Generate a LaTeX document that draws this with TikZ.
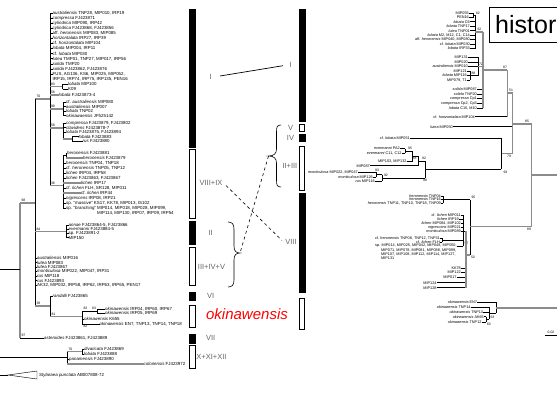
\documentclass[tikz,border=0pt]{standalone}
\usepackage{fontspec}
\setmainfont{Liberation Sans}
\newcommand\lleaf[5]{\node[lL] (#1) at (#3,#4) {#5}; \draw[br] (#2,#4) -- (#1.west);}
\newcommand\gleaf[5]{\node[lL] (#1) at (#3,#4) {#5}; \draw[gb] (#2,#4) -- (#1.west);}
\newcommand\tleaf[4]{\node[lL] (#1) at (#2,#3) {#4};}
\newcommand\rleaf[5]{\node[lR] (#1) at (#3,#4) {#5}; \draw[br] (#1.east) -- (#2,#4);}
\newcommand\bsl[5]{\node[bs,anchor=#4] (#1) at (#2,#3) {#5};}
\begin{document}
\begin{tikzpicture}[x=1pt,y=-1pt,
 br/.style={line width=0.45pt,black},
 gb/.style={line width=1.5pt,black!45},
 lL/.style={font=\fontsize{4.4}{5}\selectfont,inner sep=0pt,anchor=west},
 lR/.style={font=\fontsize{3.8}{4}\selectfont,inner sep=0pt,anchor=east},
 bs/.style={font=\fontsize{3.4}{4}\selectfont,inner sep=0.3pt},
 blk/.style={fill=black,draw=black,line width=0.4pt},
 opn/.style={draw=black,line width=0.7pt,fill=white},
 clab/.style={font=\fontsize{7.5}{8}\selectfont,text=black!60,inner sep=0pt},
]
\useasboundingbox (0,0) rectangle (557,399);
\clip (0,0) rectangle (557,399);
\fill[white] (0,0) rectangle (557,399);

% ================= LEFT TREE =================
\draw[br] (50,13) -- (50,185.5);
\lleaf{t1}{50}{52.5}{13}{\textit{australiensis} TNP28, MIP010, IRP19}
\lleaf{t2}{50}{52.5}{18}{\textit{compressa} FJ423871}
\lleaf{t3}{50}{52.5}{23}{\textit{cylindrica} MIP090, IRP42}
\lleaf{t4}{50}{52.5}{28}{\textit{cylindrica} FJ423868, FJ423856}
\lleaf{t5}{50}{52.5}{33.2}{aff. \textit{heronensis} MIP083, MIP085}
\lleaf{t6}{50}{52.5}{38.3}{\textit{horizontalata} IRP27, IRP39}
\lleaf{t7}{50}{52.5}{43.4}{cf. \textit{horizontalata} MIP104}
\lleaf{t8}{50}{52.5}{48.5}{\textit{lobata} MIP004, IRP11}
\lleaf{t9}{50}{52.5}{53.6}{cf. \textit{lobata} MIP030}
\lleaf{t10}{50}{52.5}{58.7}{\textit{lutea} TMP01, TNP27, MIP017, IRP56}
\lleaf{t11}{50}{52.5}{63.8}{\textit{solida} TMP20}
\lleaf{t12}{50}{52.5}{68.9}{\textit{solida} FJ423862, FJ423876}
\lleaf{t13}{50}{52.5}{74}{FUS, AG136, KS6, MIP025, MIP052,}
\tleaf{t14}{52.5}{79}{IRP15, IRP74, IRP75, IRP135, PEN16}
% 83
\draw[gb] (50,86.5) -- (62.7,86.5);
\draw[br] (62.7,84) -- (62.7,89);
\lleaf{a1}{62.7}{68}{84}{\textit{lobata} MIP100}
\lleaf{a2}{62.7}{68}{89}{K09}
\bsl{b83}{50.5}{86}{south west}{83}
% 58
\gleaf{a3}{50}{58.5}{95}{\textit{lobata} FJ423873-4}
\bsl{b58}{50.5}{94.3}{south west}{58}
% 70
\draw[gb] (35,99) -- (50,99);
\bsl{b70}{36}{98.3}{south west}{70}
% 99
\draw[gb] (50,108.75) -- (63,108.75);
\draw[br] (63,102) -- (63,115.5);
\lleaf{a4}{63}{66}{102}{cf. \textit{australiensis} MIP080}
\lleaf{a5}{63}{66}{106.5}{\textit{australiensis} MIP007}
\lleaf{a6}{63}{66}{111}{\textit{lobata} TNP02}
\lleaf{a7}{63}{66}{115.5}{\textit{okinawaensis} JF525142}
\bsl{b99}{50.5}{108}{south west}{99}
% 58b
\draw[gb] (50,128) -- (63,128);
\draw[br] (63,123) -- (63,138.75);
\lleaf{a8}{63}{66}{123}{\textit{compressa} FJ423879, FJ423802}
\lleaf{a9}{63}{66}{127.5}{\textit{clavidens} FJ423878-7}
\lleaf{a10}{63}{66}{132}{\textit{lobata} FJ423875, FJ423894}
\draw[gb] (63,138.75) -- (72,138.75);
\draw[br] (72,136.5) -- (72,141);
\lleaf{a11}{72}{78.5}{136.5}{\textit{lobata} FJ423883}
\lleaf{a12}{72}{82.5}{141}{\textit{rus} FJ423880}
\bsl{b58b}{50.5}{127.3}{south west}{58}
% 38 (VIII+IX)
\draw[gb] (50,185.5) -- (63,185.5);
\draw[br] (63,155.5) -- (63,208);
\draw[br] (63,155.5) -- (66,155.5);
\draw[br] (66,153) -- (66,158);
\lleaf{c1}{66}{67}{153}{\textit{heronensis} FJ423881}
\gleaf{c2}{66}{83}{158}{\textit{heronensis} FJ423879}
\lleaf{c3}{63}{66}{163}{\textit{heronensis} TNP04, TNP18}
\lleaf{c4}{63}{66}{168}{cf. \textit{heronensis} TNP05, TNP12}
\lleaf{c5}{63}{66}{173}{\textit{lichen} IRP04, IRP58}
\lleaf{c6}{63}{66}{178}{\textit{lichen} FJ423863, FJ423867}
\gleaf{c7}{63}{81}{183}{\textit{lichen} IRP17}
\lleaf{c8}{63}{66}{188}{cf. \textit{lichen} FLH, SR128, MIP011}
\gleaf{c9}{63}{81}{193}{cf. \textit{lichen} IRP44}
\lleaf{c10}{63}{66}{198}{\textit{nigrescens} IRP08, IRP21}
\lleaf{c11}{63}{66}{203}{sp. ``massive'' KS17, KK78, MIP013, IS102}
\lleaf{c12}{63}{66}{208}{sp. ``branching'' MIP014, MIP018, MIP028, MIP099,}
\tleaf{c13}{97}{213}{MIP114, MIP130, IRP07, IRP09, IRP54}
\bsl{b38}{50.5}{184.8}{south west}{38}
% 68
\draw[gb] (20,203) -- (35,203);
\bsl{b68}{21}{202.3}{south west}{68}
\draw[br] (35,99) -- (35,306);
\draw[gb] (20,203) -- (20,338);
\draw[br] (0,269) -- (20,269);
% 84 (II)
\draw[gb] (35,231.3) -- (66.7,231.3);
\draw[br] (66.7,225) -- (66.7,237.6);
\lleaf{d1}{66.7}{68.5}{225}{\textit{annae} FJ423864-5, FJ423866}
\lleaf{d2}{66.7}{68.5}{229.2}{\textit{evermanni} FJ423884-5}
\lleaf{d3}{66.7}{68.5}{233.4}{sp. FJ423891-2}
\lleaf{d4}{66.7}{68.5}{237.6}{MIP150}
\bsl{b84}{36}{230.6}{south west}{84}
% III+IV+V
\lleaf{e1}{35}{37}{258}{\textit{australiensis} MIP016}
\lleaf{e2}{35}{37}{262.5}{\textit{lutea} MIP083}
\lleaf{e3}{35}{37}{267}{\textit{lutea} FJ423867}
\lleaf{e4}{35}{37}{271.5}{\textit{monticulosa} MIP022, MIP047, IRP31}
\lleaf{e5}{35}{37}{276}{\textit{rus} MIP118}
\lleaf{e6}{35}{37}{280.5}{\textit{rus} FJ423893}
\lleaf{e7}{35}{37}{285}{AK32, MIP032, IRP58, IRP62, IRP63, IRP65, PEN17}
% 38b
\draw[gb] (35,306) -- (50,306);
\draw[br] (50,296) -- (50,316.5);
\bsl{b38b}{36}{305.3}{south west}{38}
\lleaf{f1}{50}{52.5}{296}{\textit{randalli} FJ423865}
\draw[gb] (50,316.5) -- (82,316.5);
\bsl{b81}{51}{315.8}{south west}{81}
\draw[br] (82,311) -- (82,324);
\draw[br] (82,311) -- (97,311);
\draw[br] (97,309) -- (97,313);
\lleaf{g1}{97}{105}{309}{\textit{okinawensis} IRP04, IRP60, IRP67}
\lleaf{g2}{97}{105}{313}{\textit{okinawensis} IRP05, IRP69}
\lleaf{g3}{82}{84}{319.3}{\textit{okinawensis} K655}
\lleaf{g4}{82}{99.5}{324}{\textit{okinawensis} EN7, TNP13, TNP14, TNP18}
\bsl{b82a}{83}{310.4}{south west}{82}
\bsl{b83b}{96.5}{310.4}{south east}{83}
\bsl{b82b}{83}{324.8}{north west}{82}
% 97
\lleaf{h1}{20}{44}{338}{\textit{asteroides} FJ423861, FJ423889}
\bsl{b97}{21}{337.3}{south west}{97}
% bottom
\draw[br,line width=0.8pt] (0,357) -- (67,357);
\draw[br] (67,351.5) -- (67,364);
\draw[gb] (67,351.5) -- (82,351.5);
\draw[br] (82,349) -- (82,354);
\lleaf{k1}{82}{84}{349}{\textit{divaricata} FJ423869}
\lleaf{k2}{82}{84}{354}{\textit{lobata} FJ423888}
\lleaf{k3}{67}{69}{359}{\textit{panamensis} FJ423890}
\gleaf{k4}{67}{143.5}{364}{\textit{colonensis} FJ423972}
\bsl{b70b}{68}{350.8}{south west}{70}
% outgroup
\coordinate (og0) at (0,375);
\coordinate (og1) at (8,375);
\draw[br] (og0) -- (og1);
\draw[br] (og1) -- (37,371) -- (37,379) -- cycle;
\tleaf{og}{39}{375}{\textit{Stylaraea punctata} AB007808-72}

% ================= BARS =================
\path[blk] (189.3,9.3) rectangle (195,146.7);
\path[opn] (189.3,149.3) rectangle (195,218.3);
\path[blk] (189.3,221) rectangle (195,244.3);
\path[opn] (189.3,247.3) rectangle (195,285.7);
\path[blk] (189.3,292.3) rectangle (195,300);
\path[opn] (189.3,305.3) rectangle (195,327.7);
\path[blk] (189.3,334) rectangle (195,342.7);
\path[opn] (189.3,345.3) rectangle (195,368.3);
\path[blk] (299,9.3) rectangle (304.7,120.7);
\path[opn] (299,124) rectangle (304.7,131);
\path[blk] (299,134.5) rectangle (304.7,141);
\path[opn] (299,146) rectangle (304.7,190);
\path[blk] (299,193) rectangle (304.7,291.7);
\path[opn] (299,298) rectangle (304.7,329);

% clade labels
\node[clab] (IL) at (210.7,77.3) {I};
\node[clab] (IR) at (290.7,65) {I};
\node[clab] (lV) at (290.5,127.7) {V};
\node[clab] (lIV) at (290.5,138) {IV};
\node[clab,anchor=east] (lIIIII) at (297.5,165.7) {II+III};
\node[clab] (lVIIIIX) at (211,183) {VIII+IX};
\node[clab] (lVIII) at (291,242) {VIII};
\node[clab] (lII) at (210.7,232.7) {II};
\node[clab] (lIIIIVV) at (211.5,266.7) {III+IV+V};
\node[clab] (lVI) at (210.7,296) {VI};
\node[clab] (lVII) at (210.7,338.3) {VII};
\node[clab] (lXXIXII) at (211.5,356.7) {X+XI+XII};
\node[font=\fontsize{15}{15}\selectfont\itshape,text=red,inner sep=0pt] (okred) at (247,314) {okinawensis};
\coordinate (ia) at (220,76);
\coordinate (ib) at (283,65.7);
\draw[line width=0.7pt] (ia) -- (ib);
% braces
\coordinate (tipA) at (268.5,156);
\draw[line width=0.6pt] (281,125) .. controls (277,125) and (276.5,127) .. (276.5,132) -- (276.5,149) .. controls (276.5,153.5) and (274,156) .. (tipA) .. controls (274,156) and (276.5,158.5) .. (276.5,163) -- (276.5,180) .. controls (276.5,185) and (277,187) .. (281,187);
\coordinate (tipB) at (240,253);
\draw[line width=0.6pt] (228,222) .. controls (232,222) and (234,224) .. (234,229) -- (234,246) .. controls (234,251) and (236,253) .. (tipB) .. controls (236,253) and (234,255) .. (234,260) -- (234,280) .. controls (234,285) and (232,287) .. (228,287);
\draw[dashed,line width=0.6pt] (tipA) -- (tipB);
\coordinate (da) at (226,185.5);
\coordinate (db) at (282,240.5);
\draw[dashed,line width=0.6pt] (da) -- (db);

% historical box
\draw[line width=0.8pt] (489.3,7.3) rectangle (570,42.3);
\node[anchor=base west,font=\fontsize{25}{25}\selectfont,inner sep=0pt] (hist) at (495,33) {histor};

% ================= RIGHT TREE =================
\rleaf{r1}{473}{469}{13.3}{MIP055}
\rleaf{r2}{473}{469}{17.5}{PEN16}
\draw[br] (473,13.3) -- (473,17.5);
\draw[br] (473,15.4) -- (475,15.4);
\bsl{b62a}{475.5}{13.5}{west}{62}
\rleaf{r3}{475}{470}{21.7}{\textit{lobata} C6}
\rleaf{r4}{475}{470}{26.2}{\textit{lobata} TNP17}
\rleaf{r5}{475}{470}{30.7}{\textit{lutea} TNP01}
\rleaf{r6}{475}{470}{35.2}{\textit{lobata} M2, M12, C1, C14}
\rleaf{r7}{475}{470}{39.7}{aff. \textit{heronensis} MIP040, MIP080}
\rleaf{r8}{475}{470}{44.2}{cf. \textit{lobata} MIP030}
\rleaf{r9}{475}{470}{48.5}{\textit{lobata} IRP33}
\draw[br] (475,15.4) -- (475,48.5);
\draw[gb] (475,32) -- (483,32);
\bsl{b62b}{477}{31.3}{south west}{62}
\rleaf{r10}{478}{468}{57.3}{MIP131}
\rleaf{r11}{478}{468}{61.8}{MIP020}
\rleaf{r12}{478}{468}{66.3}{\textit{australiensis} MIP010}
\rleaf{r13}{470}{467}{71}{MIP121}
\rleaf{r14}{470}{467}{75.5}{\textit{lobata} MIP116}
\rleaf{r15}{470}{467}{80}{MIP079, T1}
\draw[br] (470,71) -- (470,80);
\draw[br] (470,75.5) -- (478,75.5);
\bsl{b88a}{471}{75}{south west}{88}
\draw[br] (478,57.3) -- (478,75.5);
\draw[gb] (478,66.4) -- (483,66.4);
\bsl{b72}{478.5}{65.8}{south west}{72}
\rleaf{r16}{483}{477}{89.3}{\textit{solida} MIP087}
\rleaf{r17}{483}{477}{94}{\textit{solida} TNP20}
\rleaf{r18}{483}{477}{98.7}{\textit{compressa} Cp1}
\rleaf{r19}{483}{477}{103.3}{\textit{compressa} Cp2, Cp3}
\rleaf{r20}{483}{477}{108}{\textit{lobata} C15, M10}
\draw[gb] (483,32) -- (483,108);
\draw[gb] (483,70) -- (507.3,70);
\bsl{b87}{505}{69.3}{south}{87}
\rleaf{r21}{507.3}{475}{116.7}{cf. \textit{horizontalata} MIP104}
\draw[gb] (507.3,70) -- (507.3,116.7);
\draw[gb] (507.3,93) -- (512.7,93);
\bsl{b51}{511}{92.3}{south}{51}
\rleaf{r22}{512.7}{453}{126.7}{\textit{lutea} MIP050}
\draw[gb] (512.7,93) -- (512.7,153.3);
\draw[gb] (512.7,124) -- (531.7,124);
\bsl{b85}{527}{123.3}{south}{85}
\draw[gb] (501,153.3) -- (512.7,153.3);
\bsl{b79}{509}{154.5}{north}{79}
\rleaf{r23}{501}{410}{138.3}{cf. \textit{lobata} MIP051}
\draw[br] (501,138.3) -- (501,169.3);
\bsl{b93a}{503}{170.5}{north west}{93}
% II+III
\rleaf{r24}{405}{400}{148.5}{\textit{evermanni} PA2}
\rleaf{r25}{405}{401.7}{153}{\textit{evermanni} C11, C12}
\draw[br] (405,148.5) -- (405,153);
\draw[br] (405,150.75) -- (412,150.75);
\bsl{b95a}{410}{150}{south}{95}
\rleaf{r26}{412}{406.7}{161.5}{MIP103, MIP132}
\draw[br] (412,150.75) -- (412,161.5);
\draw[br] (412,156) -- (418,156);
\bsl{b88b}{414.5}{156.6}{north}{88}
\rleaf{r27}{418}{370}{165.7}{MIP087}
\draw[br] (418,156) -- (418,165.7);
\draw[br] (418,161) -- (425,161);
\bsl{b92a}{424}{160.3}{south}{92}
\rleaf{r28}{376}{358}{172.3}{\textit{monticulosa} MIP022, MIP047}
\rleaf{r29}{376}{373}{177}{\textit{monticulosa} MIP126}
\draw[br] (376,172.3) -- (376,177);
\draw[br] (376,174.7) -- (382,174.7);
\bsl{b93b}{377}{171.6}{south}{93}
\rleaf{r30}{382}{375}{181.3}{\textit{rus} MIP116}
\draw[br] (382,174.7) -- (382,181.3);
\draw[br] (382,178) -- (425,178);
\bsl{b92b}{383.5}{177.3}{south west}{92}
\draw[br] (425,161) -- (425,178);
\draw[br] (425,169.3) -- (501,169.3);
\bsl{b98}{425}{179}{north}{98}
% VIII
\rleaf{r31}{443.3}{441}{196}{\textit{heronensis} TNP04}
\rleaf{r32}{443.3}{441}{199.5}{\textit{heronensis} TNP16}
\rleaf{r33}{443.3}{441}{203}{\textit{heronensis} TNP11, TNP10, TNP18, TNP09}
\draw[br] (443.3,196) -- (443.3,203);
\draw[br] (443.3,199.5) -- (470,199.5);
\bsl{b95b}{471}{198.8}{south west}{95}
\draw[br] (470,199.5) -- (470,255);
\draw[gb] (470,226.7) -- (531.7,226.7);
\bsl{b50}{470.5}{255.5}{north west}{50}
\draw[gb] (531.7,124) -- (531.7,226.7);
\draw[gb] (531.7,175) -- (557,175);
\bsl{b89}{529}{228}{north}{89}
\rleaf{r34}{463.3}{461}{215.3}{cf. \textit{lichen} MIP011}
\rleaf{r35}{463.3}{459}{219.3}{\textit{lichen} IRP19}
\rleaf{r36}{463.3}{461}{223.3}{\textit{lichen} MIP084, MIP102}
\rleaf{r37}{463.3}{461}{227.3}{\textit{nigrescens} MIP021}
\rleaf{r38}{463.3}{461}{231.3}{\textit{monticulosa} MIP089}
\rleaf{r39}{442.3}{440}{238.3}{cf. \textit{heronensis} TNP08, TNP12, TNP31}
\rleaf{r40}{442.3}{440}{242.3}{cf. \textit{lichen} FLH}
\draw[br] (442.3,238.3) -- (442.3,242.3);
\draw[br] (442.3,240.3) -- (463.3,240.3);
\bsl{b97r}{464}{242}{north west}{97}
\node[lR,anchor=west] (r41) at (375,246) {sp. MIP014, MIP025, MIP042, MIP048, MIP050,};
\draw[br] (r41.east) -- (463.3,246);
\draw[br] (463.3,215.3) -- (463.3,246);
\node[lR,anchor=west] (r41b) at (381,250) {MIP071, MIP078, MIP081, MIP088, MIP099,};
\node[lR,anchor=west] (r41c) at (381,254) {MIP107, MIP108, MIP112, MIP114, MIP127,};
\node[lR,anchor=west] (r41d) at (381,258) {MIP131};
\draw[br] (463.3,231) -- (466,231);
\rleaf{r42}{466}{461}{268.3}{KK78}
\rleaf{r43}{466}{461}{272.3}{MIP122}
\rleaf{r44}{466}{456.7}{277.3}{MIP017}
\rleaf{r45}{466}{436.7}{282.7}{MIP124}
\rleaf{r46}{466}{436.7}{287.7}{MIP128}
\draw[gb] (466,231) -- (466,287.7);
\draw[gb] (466,255) -- (470,255);
% okinawensis right
\rleaf{r47}{496}{477.3}{302.3}{\textit{okinawensis} EN7}
\rleaf{r48}{489}{470.7}{307.3}{\textit{okinawensis} TNP14}
\rleaf{r49}{489}{483.3}{312.3}{\textit{okinawensis} TNP13}
\rleaf{r50}{486}{484}{316.7}{\textit{okinawensis} AK65}
\rleaf{r51}{486}{481.7}{322}{\textit{okinawensis} TNP12}
\draw[br] (486,316.7) -- (486,322);
\draw[br] (486,319.3) -- (489,319.3);
\bsl{b63a}{486.5}{323}{north west}{63}
\draw[br] (489,307.3) -- (489,319.3);
\draw[br] (489,313.3) -- (496,313.3);
\bsl{b63b}{490}{316}{north west}{63}
\draw[br] (496,302.3) -- (496,313.3);
\draw[gb] (496,308) -- (557,308);
\coordinate (sa) at (545,335.7);
\coordinate (sb) at (557,335.7);
\draw[line width=0.8pt] (sa) -- (sb);
\node[bs,anchor=south] (scl) at (551,334.5) {0.02};
\end{tikzpicture}
\end{document}
